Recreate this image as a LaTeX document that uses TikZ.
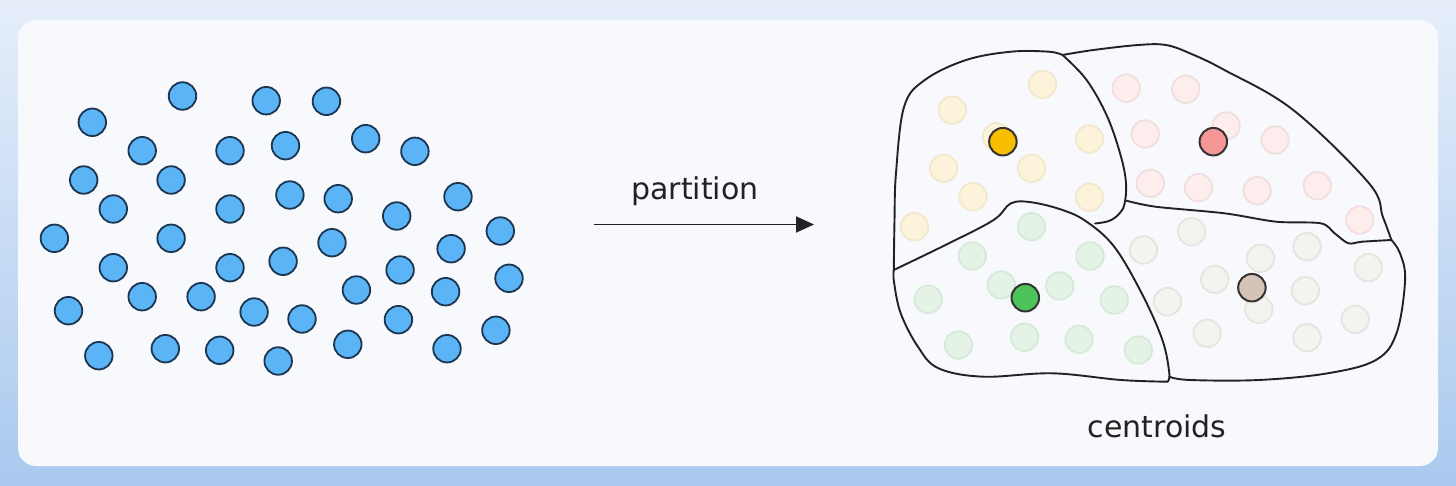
\documentclass[tikz,border=0pt]{standalone}
\usepackage{fontspec}
\setmainfont{DejaVu Sans}
\usetikzlibrary{arrows.meta}
\definecolor{bgtop}{HTML}{E6EEFA}
\definecolor{bgbot}{HTML}{A9C9EF}
\definecolor{cardbg}{HTML}{F7F9FC}
\definecolor{bluefill}{HTML}{5BB4F5}
\definecolor{dotline}{HTML}{1C3550}
\definecolor{yfill}{HTML}{FCF3DA}
\definecolor{yline}{HTML}{F2E8CD}
\definecolor{pfill}{HTML}{FDEDED}
\definecolor{pline}{HTML}{F1DFDF}
\definecolor{gfill}{HTML}{E4F3E6}
\definecolor{gline}{HTML}{D6EAD9}
\definecolor{kfill}{HTML}{F4F3F0}
\definecolor{kline}{HTML}{E6E4E0}
\definecolor{ycent}{HTML}{F7BE00}
\definecolor{pcent}{HTML}{F59696}
\definecolor{gcent}{HTML}{4CC45A}
\definecolor{kcent}{HTML}{D5C3B7}
\definecolor{centline}{HTML}{333333}
\definecolor{inkline}{HTML}{222222}
\tikzset{
  dotbase/.style={circle, minimum size=27.5pt, inner sep=0pt, line width=1.8pt},
  bdot/.style={dotbase, draw=dotline, fill=bluefill},
  ydot/.style={dotbase, draw=yline, fill=yfill},
  pdot/.style={dotbase, draw=pline, fill=pfill},
  gdot/.style={dotbase, draw=gline, fill=gfill},
  kdot/.style={dotbase, draw=kline, fill=kfill},
  cent/.style={dotbase, draw=centline, line width=2pt},
  border/.style={draw=inkline, line width=1.9pt, line cap=round, line join=round},
  arrowline/.style={draw=inkline, line width=1.9pt, -{Triangle[length=18pt,width=16pt]}},
  lbl/.style={font=\fontsize{30}{30}\selectfont, text=inkline, inner sep=0pt, anchor=base}
}
\begin{document}
\begin{tikzpicture}[x=1pt, y=-1pt]
\useasboundingbox (0,0) rectangle (1456,486);
\fill[top color=bgtop, bottom color=bgbot] (0,0) rectangle (1456,486);
\fill[cardbg, rounded corners=18pt] (18,20) rectangle (1438,466);

% blue points
\foreach \x/\y [count=\i] in {
 182.5/96, 266.2/100.7, 326.4/101.3, 92.3/122.3, 142.2/150.7, 230/150.7,
 285.5/145.7, 365.7/138.7, 414.9/151.3, 83.7/180, 171.1/180, 113.3/209,
 230/209, 289.9/195, 338.2/198.7, 396.7/216, 458/196.7, 54.4/238.3,
 171.1/238.3, 332/242.7, 500.3/231, 451.1/248.7, 113.3/267.7, 230/267.7,
 283.1/261.3, 400.1/270, 509/278.3, 68.5/310.7, 142.2/296.7, 201.1/296.7,
 254.1/312, 302/319, 356.4/290, 445.6/291.7, 398.4/319.7, 495.9/330.3,
 98.8/355.7, 165.3/348.7, 219.7/350.3, 278.2/361, 347.8/344.3, 447/348.7}
 \node[bdot] (b\i) at (\x,\y) {};

% arrow and labels
\coordinate (a0) at (594,224.5);
\coordinate (a1) at (814,224.5);
\draw[arrowline] (a0) -- (a1);
\node[lbl] (ptxt) at (695,200) {partition};
\node[lbl] (ctxt) at (1157,437) {centroids};

% faded yellow
\foreach \x/\y [count=\i] in {
 1042.5/84.3, 952.3/110, 996.4/136.7, 1089.4/139, 943.7/168.3,
 1031.5/168.3, 973/196.7, 1089.4/197.3, 914.4/226.7}
 \node[ydot] (y\i) at (\x,\y) {};
% faded pink
\foreach \x/\y [count=\i] in {
 1126.2/88.3, 1185.8/89.3, 1226.1/126, 1145.2/134, 1275/140,
 1150.3/183.3, 1198.5/187.7, 1257.1/190.7, 1317.3/185.7, 1359.7/220}
 \node[pdot] (p\i) at (\x,\y) {};
% faded green
\foreach \x/\y [count=\i] in {
 1031.5/226.7, 972.3/256, 1090.1/256, 1001.2/285, 1059.8/286,
 928.2/299.3, 1114.2/300, 958.5/345, 1024.6/337.3, 1079/339.3, 1138.3/350}
 \node[gdot] (g\i) at (\x,\y) {};
% faded grey
\foreach \x/\y [count=\i] in {
 1191.6/231.7, 1143.4/250, 1307/246.7, 1260.5/258.3, 1368.3/267.7,
 1214.7/279.3, 1305.3/290.7, 1167.5/301.7, 1258.8/309.3, 1355.2/319.3,
 1207.1/333.3, 1307/337.7}
 \node[kdot] (k\i) at (\x,\y) {};

% region borders
\draw[border] plot[smooth, tension=0.6] coordinates {
 (893.8,270) (894.5,220) (896,173) (904.1,106.7) (924.8,80) (966.1,60)
 (1010.9,51.7) (1048.7,51.7) (1062.5,55)};
\draw[border] plot[smooth, tension=0.6] coordinates {
 (1062.5,55) (1086.6,80) (1107.3,116.7) (1121,156.7) (1126,183.3)
 (1124.5,204) (1119,214) (1109,221) (1095,223.5)};
\draw[border] plot[smooth, tension=0.6] coordinates {
 (893.8,270) (948.9,243.3) (993.6,220) (1010.9,203.3) (1031.5,202.3)
 (1062.5,210) (1086.6,221.7) (1114.2,246.7) (1141.7,293.3) (1162.4,340)
 (1169.3,373.3) (1167.5,381.7)};
\draw[border] plot[smooth, tension=0.6] coordinates {
 (1167.5,381.7) (1121,380) (1052.2,373.3) (983.3,376.7) (938.5,368.3)
 (917.9,346.7) (900.7,313.3) (894,282) (893.8,270)};
\draw[border] plot[smooth, tension=0.6] coordinates {
 (1062.5,55) (1093.5,50) (1138.3,45) (1165.8,45) (1189.9,53.3) (1224.4,70)
 (1293.2,110) (1369,183.3) (1382.8,216.7) (1391.4,240)};
\draw[border] plot[smooth, tension=0.5] coordinates {
 (1126.5,200.7) (1155.5,206.7) (1224.4,213.3) (1276,221.7) (1320.8,223.3)
 (1334.6,233.3) (1348.3,243.3) (1362.1,241.7) (1391.4,240)};
\draw[border] plot[smooth, tension=0.6] coordinates {
 (1391.4,240) (1400,253.3) (1405.1,280) (1396.5,333.3) (1375.9,360)
 (1327.7,373.3) (1258.8,380) (1189.9,380) (1169.3,376.7)};

% centroids
\node[cent, fill=ycent] (cy) at (1002.9,141.7) {};
\node[cent, fill=pcent] (cp) at (1213.3,141.7) {};
\node[cent, fill=gcent] (cg) at (1025.3,297.7) {};
\node[cent, fill=kcent] (ck) at (1251.9,287.7) {};
\end{tikzpicture}
\end{document}
